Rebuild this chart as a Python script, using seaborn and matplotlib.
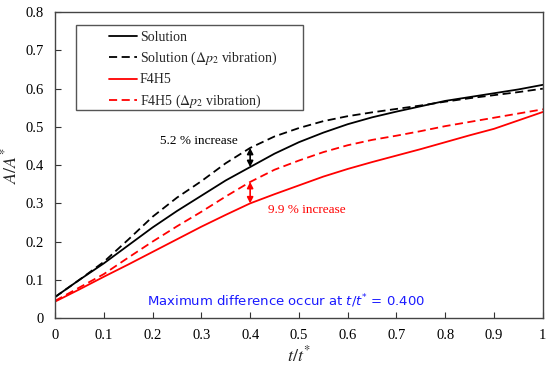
import numpy as np
import pandas as pd
import matplotlib.pyplot as plt
import seaborn as sns
from matplotlib.patches import Rectangle

# time axis t/t*
t = [0, 0.05, 0.1, 0.15, 0.2, 0.25, 0.3, 0.35, 0.4, 0.45, 0.5,
     0.55, 0.6, 0.65, 0.7, 0.75, 0.8, 0.85, 0.9, 0.95, 1.0]

solution = [0.055, 0.100, 0.143, 0.190, 0.237, 0.280, 0.320, 0.360, 0.395, 0.430, 0.460,
            0.485, 0.507, 0.525, 0.540, 0.554, 0.568, 0.578, 0.588, 0.598, 0.610]
solution_vib = [0.055, 0.100, 0.147, 0.205, 0.265, 0.315, 0.358, 0.405, 0.445, 0.475, 0.497,
                0.515, 0.528, 0.538, 0.547, 0.556, 0.566, 0.575, 0.583, 0.591, 0.600]
f4h5 = [0.043, 0.075, 0.108, 0.140, 0.173, 0.206, 0.239, 0.270, 0.300, 0.324, 0.347,
        0.370, 0.390, 0.408, 0.425, 0.442, 0.460, 0.478, 0.495, 0.517, 0.539]
f4h5_vib = [0.045, 0.080, 0.115, 0.158, 0.200, 0.240, 0.278, 0.318, 0.356, 0.388, 0.412,
            0.434, 0.452, 0.466, 0.477, 0.489, 0.502, 0.513, 0.524, 0.535, 0.546]

labels = ['Solution', r'Solution ($\Delta p_2$ vibration)', 'F4H5', r'F4H5 ($\Delta p_2$ vibration)']
series = [solution, solution_vib, f4h5, f4h5_vib]
colors = ['black', 'black', '#ff0000', '#ff0000']
dashed = [False, True, False, True]

df = pd.concat([pd.DataFrame({'t': t, 'A': s, 'case': lab}) for s, lab in zip(series, labels)])

sns.set_style('white')
plt.rcParams['font.family'] = ['Liberation Serif', 'DejaVu Serif']
plt.rcParams['mathtext.fontset'] = 'stix'

fig, ax = plt.subplots(figsize=(5.5, 3.69), dpi=100)

for lab, c, d in zip(labels, colors, dashed):
    sns.lineplot(data=df[df['case'] == lab], x='t', y='A', color=c,
                 linewidth=1.3, label=lab, ax=ax)
    if d:
        ax.lines[-1].set_dashes((4.5, 2.5))

# difference arrows at t/t* = 0.4
arrow = '<|-|>,head_length=0.35,head_width=0.18'
ax.annotate('', xy=(0.4, 0.445), xytext=(0.4, 0.395),
            arrowprops=dict(arrowstyle=arrow, color='black', lw=1.2, shrinkA=0, shrinkB=0))
ax.annotate('', xy=(0.4, 0.356), xytext=(0.4, 0.300),
            arrowprops=dict(arrowstyle=arrow, color='#ff0000', lw=1.2, shrinkA=0, shrinkB=0))
ax.text(0.215, 0.463, '5.2 % increase', fontsize=9.5, color='black', va='center')
ax.text(0.437, 0.282, '9.9 % increase', fontsize=9.5, color='#ff0000', va='center')
ax.text(0.189, 0.043, r'Maximum difference occur at $t/t^{*}$ = 0.400', fontsize=9.5,
        color='#1a1aff', va='center', family=['DejaVu Sans'], math_fontfamily='dejavusans')

ax.set_xlim(0, 1)
ax.set_ylim(0, 0.8)
ax.set_xticks(np.arange(0, 1.01, 0.1))
ax.set_xticklabels(['0', '0.1', '0.2', '0.3', '0.4', '0.5', '0.6', '0.7', '0.8', '0.9', '1'])
ax.set_yticks(np.arange(0, 0.81, 0.1))
ax.set_yticklabels(['0', '0.1', '0.2', '0.3', '0.4', '0.5', '0.6', '0.7', '0.8'])
ax.tick_params(direction='in', length=4, width=0.8, labelsize=10.5, pad=8, bottom=True, left=True,
               colors='#333333', labelcolor='black')
ax.set_xlabel(r'$t/t^{*}$', fontsize=13, labelpad=2)
ax.set_ylabel(r'$A/A^{*}$', fontsize=13, labelpad=4)
for sp in ax.spines.values():
    sp.set_color('#444444')
    sp.set_linewidth(1.0)

# legend box drawn separately (wide inner padding as in the original)
ax.add_patch(Rectangle((0.043, 0.680), 0.465, 0.277, transform=ax.transAxes,
                       facecolor='white', edgecolor='#555555', linewidth=1.0, zorder=3))
leg = ax.legend(loc='upper left', bbox_to_anchor=(0.111, 0.940), fontsize=10, frameon=False,
                handlelength=2.0, handletextpad=0.2, labelspacing=0.45,
                borderpad=0, borderaxespad=0)
leg.set_zorder(4)

fig.subplots_adjust(left=0.1, right=0.987, top=0.967, bottom=0.138)
fig.savefig('out.png', dpi=100)
